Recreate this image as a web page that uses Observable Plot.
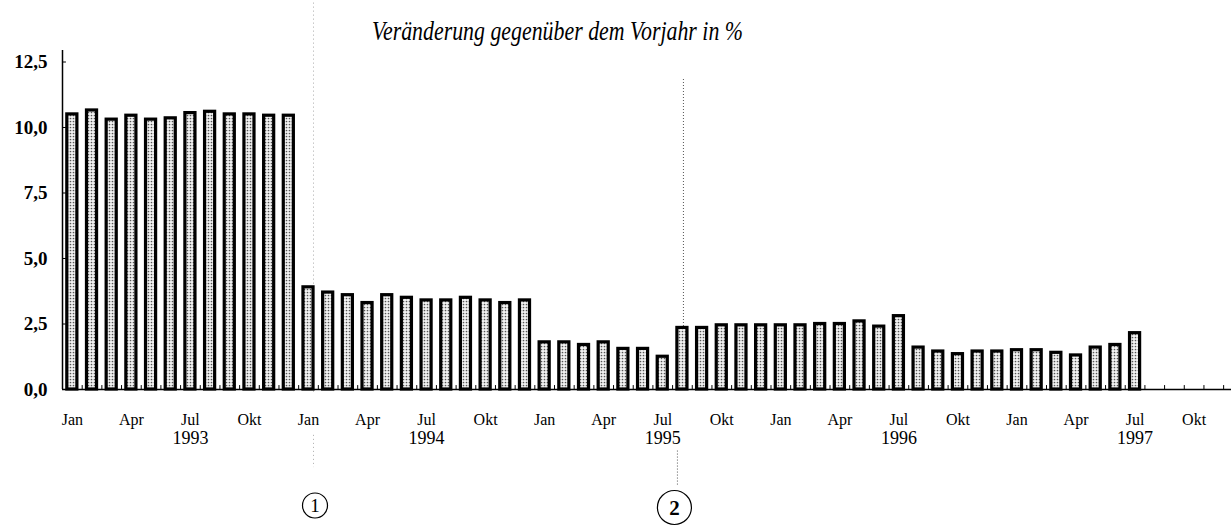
<!DOCTYPE html>
<html>
<head>
<meta charset="utf-8">
<script src="https://cdn.jsdelivr.net/npm/d3@7"></script>
<script src="https://cdn.jsdelivr.net/npm/@observablehq/plot@0.6"></script>
<style>
  html, body { margin: 0; padding: 0; background: #fff; }
  svg { display: block; }
</style>
</head>
<body>
<div id="chart"></div>
<script>
const title = "Veränderung gegenüber dem Vorjahr in %";
const years = [1993, 1994, 1995, 1996, 1997];
const quarterLabels = ["Jan", "Apr", "Jul", "Okt"];
const yTicks = [0, 2.5, 5, 7.5, 10, 12.5];

const values1993 = [10.5, 10.65, 10.3, 10.45, 10.3, 10.35, 10.55, 10.6, 10.5, 10.5, 10.45, 10.45];
const values1994 = [3.9, 3.7, 3.6, 3.3, 3.6, 3.5, 3.4, 3.4, 3.5, 3.4, 3.3, 3.4];
const values1995 = [1.8, 1.8, 1.7, 1.8, 1.55, 1.55, 1.25, 2.35, 2.35, 2.45, 2.45, 2.45];
const values1996 = [2.45, 2.45, 2.5, 2.5, 2.6, 2.4, 2.8, 1.6, 1.45, 1.35, 1.45, 1.45];
const values1997 = [1.5, 1.5, 1.4, 1.3, 1.6, 1.7, 2.15];

const annotations = [
  {label: "1", year: 1994, month: 0},
  {label: "2", year: 1995, month: 7}
];

const yearValues = [values1993, values1994, values1995, values1996, values1997];
const bars = years.flatMap((yr, k) => yearValues[k].map((v, m) => ({i: k * 12 + m, v})));
const lastIndex = 58; // axis runs through Nov 1997
const quarterTicks = years.flatMap((yr, k) => quarterLabels.map((lab, q) => ({i: k * 12 + q * 3, lab}))).filter(d => d.i <= 57);
const yearTicks = years.map((yr, k) => ({i: k * 12 + 6, lab: String(yr)}));
const boundaries = d3.range(0, lastIndex + 1).map(i => i + 0.5);
const ann = annotations.map(a => ({...a, i: (a.year - years[0]) * 12 + a.month}));
const fmt = v => v.toFixed(1).replace(".", ",");

const serif = "'Liberation Serif', 'Times New Roman', serif";

const chart = Plot.plot({
  width: 1231,
  height: 527,
  style: {fontFamily: serif, background: "white", overflow: "visible"},
  x: {type: "linear", domain: [-0.5, 58.9], range: [62, 1231], axis: null},
  y: {type: "linear", domain: [0, 12.5], range: [389, 61.5], axis: null},
  marks: [
    // title
    Plot.text([title], {frameAnchor: "top-left", dx: 557, dy: 31, text: d => d, textAnchor: "middle", lineAnchor: "middle", fontSize: 27, fontStyle: "italic", fill: "black"}),
    // dotted annotation lines (behind bars)
    Plot.ruleX([ann[0]], {x: "i", y1: -0.1, y2: 14.9, dx: 5, stroke: "#aaa", strokeWidth: 1, strokeDasharray: "1,3"}),
    Plot.ruleX([ann[0]], {x: "i", y1: -1.75, y2: -2.98, dx: 5, stroke: "#aaa", strokeWidth: 1, strokeDasharray: "1,3"}),
    Plot.ruleX([ann[1]], {x: "i", y1: 0, y2: 11.87, dx: 1, stroke: "#555", strokeWidth: 1, strokeDasharray: "1,2"}),
    Plot.ruleX([ann[1]], {x: "i", y1: -2.35, y2: -3.7, dx: -5, stroke: "#555", strokeWidth: 1, strokeDasharray: "1,2"}),
    // y axis line and inward ticks
    Plot.ruleX([-0.5], {x: d => d, y1: 0, y2: 12.94, stroke: "black", strokeWidth: 1.5}),
    Plot.ruleY(yTicks, {y: d => d, x1: -0.5, x2: -0.3, stroke: "black", strokeWidth: 1}),
    // bars
    Plot.rect(bars, {x1: d => d.i - 0.5, x2: d => d.i + 0.5, y1: 0, y2: "v", insetLeft: 4.8, insetRight: 4.8, fill: "url(#stipple)", stroke: "black", strokeWidth: 3.2}),
    // x axis baseline and ticks
    Plot.ruleY([0], {y: d => d, x1: -0.5, x2: 58.9, stroke: "black", strokeWidth: 1.5}),
    Plot.ruleX(boundaries, {x: d => d, y1: 0, y2: 0.15, stroke: "black", strokeWidth: 1}),
    // y labels
    Plot.text(yTicks, {x: -0.5, y: d => d, text: fmt, dx: -15, textAnchor: "end", lineAnchor: "middle", fontSize: 19, fontWeight: "bold", fill: "black"}),
    // x labels
    Plot.text(quarterTicks, {x: "i", y: 0, text: "lab", dy: 30, textAnchor: "middle", lineAnchor: "middle", fontSize: 16, fill: "black"}),
    Plot.text(yearTicks, {x: "i", y: 0, text: "lab", dy: 49, textAnchor: "middle", lineAnchor: "middle", fontSize: 18, fill: "black"}),
    // circled numbers
    Plot.dot([ann[0]], {x: "i", y: 0, dx: 6.5, dy: 116, r: 12.5, stroke: "black", strokeWidth: 1.2, fill: "white"}),
    Plot.text([ann[0]], {x: "i", y: 0, dx: 6.5, dy: 116, text: "label", fontSize: 19, lineAnchor: "middle", fill: "black"}),
    Plot.dot([ann[1]], {x: "i", y: 0, dx: -8, dy: 118, r: 17, stroke: "black", strokeWidth: 1.2, fill: "white"}),
    Plot.text([ann[1]], {x: "i", y: 0, dx: -8, dy: 119, text: "label", fontSize: 21, fontWeight: "bold", lineAnchor: "middle", fill: "black"})
  ]
});

// stipple pattern for bar fill
const ns = "http://www.w3.org/2000/svg";
const defs = document.createElementNS(ns, "defs");
const pat = document.createElementNS(ns, "pattern");
pat.setAttribute("id", "stipple");
pat.setAttribute("width", "3");
pat.setAttribute("height", "3");
pat.setAttribute("patternUnits", "userSpaceOnUse");
const bg = document.createElementNS(ns, "rect");
bg.setAttribute("width", "3"); bg.setAttribute("height", "3"); bg.setAttribute("fill", "#f2f2f2");
const dot = document.createElementNS(ns, "circle");
dot.setAttribute("cx", "1.5"); dot.setAttribute("cy", "1.5"); dot.setAttribute("r", "0.85"); dot.setAttribute("fill", "#555");
pat.appendChild(bg); pat.appendChild(dot); defs.appendChild(pat);
chart.insertBefore(defs, chart.firstChild);

// fit the title to the reference's width
for (const t of chart.querySelectorAll("text")) {
  if (t.textContent === title) {
    t.setAttribute("textLength", "371");
    t.setAttribute("lengthAdjust", "spacingAndGlyphs");
  }
}

document.getElementById("chart").appendChild(chart);
</script>
</body>
</html>
